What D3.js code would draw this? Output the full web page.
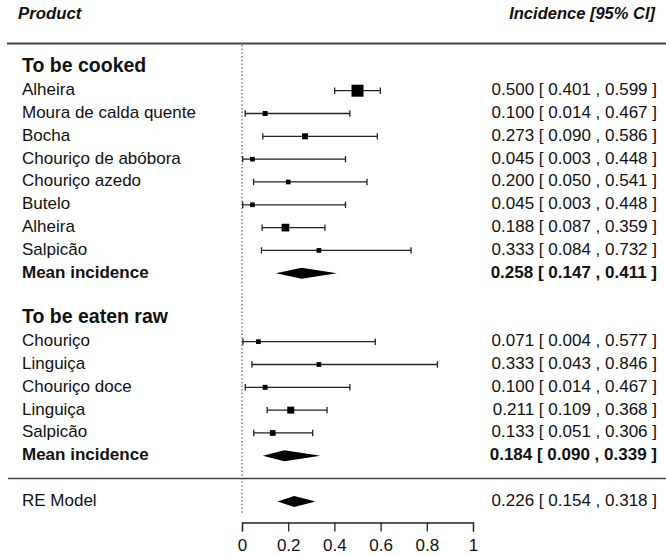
<!DOCTYPE html>
<html>
<head>
<meta charset="utf-8">
<script src="https://cdn.jsdelivr.net/npm/d3@7"></script>
<style>
  body { margin: 0; background: #fff; }
  text { font-family: "Liberation Sans", Arial, Helvetica, sans-serif; fill: #111; }
</style>
</head>
<body>
<div id="viz"></div>
<script>
// data
var cookedProducts = ["Alheira", "Moura de calda quente", "Bocha", "Chouriço de abóbora",
  "Chouriço azedo", "Butelo", "Alheira", "Salpicão"];
var cookedEst = [0.500, 0.100, 0.273, 0.045, 0.200, 0.045, 0.188, 0.333];
var cookedLo  = [0.401, 0.014, 0.090, 0.003, 0.050, 0.003, 0.087, 0.084];
var cookedHi  = [0.599, 0.467, 0.586, 0.448, 0.541, 0.448, 0.359, 0.732];
var cookedWeights = [17.0, 5.3, 7.0, 4.8, 4.8, 4.8, 9.8, 4.8];

var rawProducts = ["Chouriço", "Linguiça", "Chouriço doce", "Linguiça", "Salpicão"];
var rawEst = [0.071, 0.333, 0.100, 0.211, 0.133];
var rawLo  = [0.004, 0.043, 0.014, 0.109, 0.051];
var rawHi  = [0.577, 0.846, 0.467, 0.368, 0.306];
var rawWeights = [4.8, 4.8, 5.3, 8.6, 6.5];

var meanCooked = [0.258, 0.147, 0.411];
var meanRaw = [0.184, 0.090, 0.339];
var reModel = [0.226, 0.154, 0.318];

var tickValues = [0, 0.2, 0.4, 0.6, 0.8, 1];

var W = 666, H = 556;
var svg = d3.select("#viz").append("svg").attr("width", W).attr("height", H);

var x = d3.scaleLinear().domain([0, 1]).range([242, 473]);
var y = d3.scaleLinear().domain([0, 18]).range([90.7, 501.4]);
var size = d3.scaleLinear()
  .domain([d3.min(cookedWeights.concat(rawWeights)), d3.max(cookedWeights.concat(rawWeights))])
  .range([4.7, 12]);
var fmt = d3.format(".3f");
var ci = function (e, l, h) { return fmt(e) + " [ " + fmt(l) + " , " + fmt(h) + " ]"; };

// build rows
var studies = [], rowsText = [], diamonds = [];
var r = -1;
function group(title, names, est, lo, hi, w, mean) {
  rowsText.push({ row: r, left: title, bold: true, title: true });
  r++;
  names.forEach(function (n, i) {
    studies.push({ row: r, est: est[i], lo: lo[i], hi: hi[i], w: w[i] });
    rowsText.push({ row: r, left: n, right: ci(est[i], lo[i], hi[i]) });
    r++;
  });
  diamonds.push({ row: r, est: mean[0], lo: mean[1], hi: mean[2] });
  rowsText.push({ row: r, left: "Mean incidence", right: ci(mean[0], mean[1], mean[2]), bold: true });
  r += 2;
}
group("To be cooked", cookedProducts, cookedEst, cookedLo, cookedHi, cookedWeights, meanCooked);
group("To be eaten raw", rawProducts, rawEst, rawLo, rawHi, rawWeights, meanRaw);
r = 18;
diamonds.push({ row: r, est: reModel[0], lo: reModel[1], hi: reModel[2] });
rowsText.push({ row: r, left: "RE Model", right: ci(reModel[0], reModel[1], reModel[2]) });

// header
svg.append("text").attr("x", 18).attr("y", 19)
  .style("font-size", "16.8px").style("font-weight", "bold").style("font-style", "italic")
  .text("Product");
svg.append("text").attr("x", 655).attr("y", 19).attr("text-anchor", "end")
  .style("font-size", "16.5px").style("font-weight", "bold").style("font-style", "italic")
  .text("Incidence [95% CI]");

svg.append("line").attr("x1", 7).attr("x2", W).attr("y1", 43.5).attr("y2", 43.5)
  .style("stroke", "#444").style("stroke-width", 2);
svg.append("line").attr("x1", 8).attr("x2", W).attr("y1", y(17)).attr("y2", y(17))
  .style("stroke", "#444").style("stroke-width", 1.5);

// reference line at 0
svg.append("line").attr("x1", x(0)).attr("x2", x(0)).attr("y1", 45).attr("y2", 514)
  .style("stroke", "#666").style("stroke-width", 1.2).style("stroke-dasharray", "1.5,2.2");

// CI whiskers
var g = svg.append("g");
g.selectAll("line.ci").data(studies).enter().append("line")
  .attr("x1", function (d) { return x(d.lo); })
  .attr("x2", function (d) { return x(d.hi); })
  .attr("y1", function (d) { return y(d.row); })
  .attr("y2", function (d) { return y(d.row); })
  .style("stroke", "#222").style("stroke-width", 1.3);
["lo", "hi"].forEach(function (k) {
  g.selectAll("line.cap" + k).data(studies).enter().append("line")
    .attr("x1", function (d) { return x(d[k]); })
    .attr("x2", function (d) { return x(d[k]); })
    .attr("y1", function (d) { return y(d.row) - 3.2; })
    .attr("y2", function (d) { return y(d.row) + 3.2; })
    .style("stroke", "#222").style("stroke-width", 1.3);
});
g.selectAll("rect.pt").data(studies).enter().append("rect")
  .attr("x", function (d) { return x(d.est) - size(d.w) / 2; })
  .attr("y", function (d) { return y(d.row) - size(d.w) / 2; })
  .attr("width", function (d) { return size(d.w); })
  .attr("height", function (d) { return size(d.w); })
  .style("fill", "#000");

// diamonds
g.selectAll("path.dia").data(diamonds).enter().append("path")
  .attr("d", function (d) {
    var cy = y(d.row), h = 5.5;
    return "M" + x(d.lo) + "," + cy + "L" + x(d.est) + "," + (cy - h) +
      "L" + x(d.hi) + "," + cy + "L" + x(d.est) + "," + (cy + h) + "Z";
  })
  .style("fill", "#000");

// row texts
svg.selectAll("text.left").data(rowsText).enter().append("text")
  .attr("x", 22).attr("y", function (d) { return y(d.row) - (d.title ? 2.5 : 1.5); })
  .attr("dy", "0.35em")
  .style("font-size", function (d) { return d.title ? "19.5px" : "17px"; })
  .style("font-weight", function (d) { return d.bold ? "bold" : "normal"; })
  .text(function (d) { return d.left; });
svg.selectAll("text.right").data(rowsText.filter(function (d) { return d.right; })).enter().append("text")
  .attr("x", 657).attr("y", function (d) { return y(d.row) - 1.5; })
  .attr("dy", "0.35em").attr("text-anchor", "end")
  .style("font-size", "17px")
  .style("font-weight", function (d) { return d.bold ? "bold" : "normal"; })
  .text(function (d) { return d.right; });

// x axis
var axis = svg.append("g").attr("transform", "translate(0,522.5)")
  .call(d3.axisBottom(x).tickValues(tickValues).tickSize(9).tickPadding(7).tickFormat(d3.format("")));
axis.select(".domain").style("stroke", "#222").style("stroke-width", 1.3);
axis.selectAll(".tick line").style("stroke", "#222").style("stroke-width", 1.3);
axis.selectAll(".tick text").style("font-size", "17px")
  .style("font-family", "'Liberation Sans', Arial, sans-serif").style("fill", "#111");
</script>
</body>
</html>
